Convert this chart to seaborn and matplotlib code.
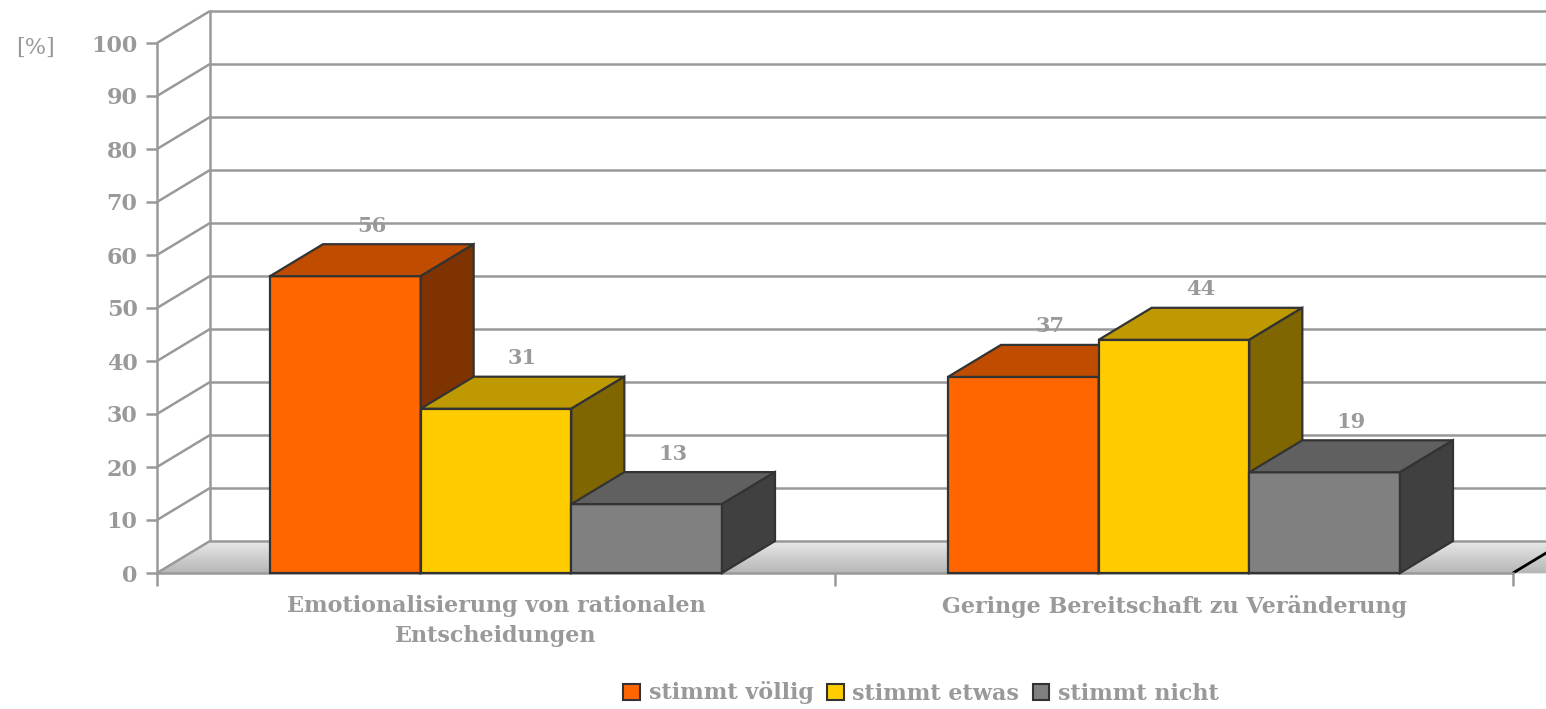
import matplotlib
matplotlib.use("Agg")
import matplotlib.pyplot as plt
import seaborn as sns
import pandas as pd
import numpy as np
from matplotlib.patches import Polygon, Patch
from matplotlib.colors import to_rgb

# ---------------- data ----------------
categories = ["Emotionalisierung von rationalen\nEntscheidungen",
              "Geringe Bereitschaft zu Veränderung"]
series = ["stimmt völlig", "stimmt etwas", "stimmt nicht"]
stimmt_voellig = [56, 37]
stimmt_etwas = [31, 44]
stimmt_nicht = [13, 19]
y_ticks = [0, 10, 20, 30, 40, 50, 60, 70, 80, 90, 100]

# ---------------- styles ----------------
front_colors = ["#FF6600", "#FFCC00", "#808080"]
top_colors = ["#C04C00", "#BF9900", "#606060"]
side_colors = ["#7F3300", "#7F6600", "#404040"]
edge = "#333333"
grey = "#999999"
text_grey = "#999999"

sns.set_style("white")
plt.rcParams["font.family"] = ["DejaVu Serif"]

W, H = 1546, 709
fig = plt.figure(figsize=(W / 100, H / 100), dpi=100)
px_left, px_right, px_bottom, px_top = 157, 1513, 573, 43
ax = fig.add_axes([px_left / W, 1 - px_bottom / H,
                   (px_right - px_left) / W, (px_bottom - px_top) / H])

df = pd.DataFrame({
    "category": categories * 3,
    "series": [series[0]] * 2 + [series[1]] * 2 + [series[2]] * 2,
    "value": stimmt_voellig + stimmt_etwas + stimmt_nicht,
})

sns.barplot(data=df, x="category", y="value", hue="series",
            order=categories, hue_order=series, palette=front_colors,
            saturation=1, width=2 / 3, edgecolor=edge, linewidth=1.6,
            legend=False, ax=ax)

ax.set_xlim(-0.5, 1.5)
ax.set_ylim(0, 100)

# depth offset (pixels -> data units)
DX = 53 * 2 / (px_right - px_left)
DY = 32 * 100 / (px_bottom - px_top)

# floor with gradient
n_strips = 40
c_front = np.array(to_rgb("#b5b5b5"))
c_back = np.array(to_rgb("#e8e8e8"))
for k in range(n_strips):
    t0, t1 = k / n_strips, (k + 1) / n_strips
    col = c_front + (c_back - c_front) * (t0 + t1) / 2
    poly = Polygon([(-0.5 + DX * t0, DY * t0), (1.5 + DX * t0 + 0.1, DY * t0),
                    (1.5 + DX * t1 + 0.1, DY * t1), (-0.5 + DX * t1, DY * t1)],
                   closed=True, facecolor=col, edgecolor=col, lw=0.5,
                   clip_on=False, zorder=0.5)
    ax.add_patch(poly)

# wall gridlines and connectors
for v in y_ticks:
    ax.plot([-0.5, -0.5 + DX], [v, v + DY], color=grey, lw=1.8,
            clip_on=False, zorder=1, solid_capstyle="butt")
    ax.plot([-0.5 + DX, 1.5 + DX + 0.2], [v + DY, v + DY], color=grey, lw=1.8,
            clip_on=False, zorder=1, solid_capstyle="butt")
ax.plot([-0.5 + DX, -0.5 + DX], [DY, 100 + DY], color=grey, lw=1.8,
        clip_on=False, zorder=1)
ax.plot([1.5, 1.5 + DX], [0, DY], color="black", lw=2.0, clip_on=False, zorder=1)

# 3D bars
bars = []
for i, cont in enumerate(ax.containers):
    for rect in cont:
        bars.append((rect.get_x(), i, rect))
bars.sort(key=lambda b: b[0])
for k, (_, i, rect) in enumerate(bars):
    base = 3 + 3 * k
    x, w, h = rect.get_x(), rect.get_width(), rect.get_height()
    rect.set_zorder(base)
    rect.set_clip_on(False)
    top = Polygon([(x, h), (x + w, h), (x + w + DX, h + DY), (x + DX, h + DY)],
                  closed=True, facecolor=top_colors[i], edgecolor=edge,
                  lw=1.6, joinstyle="miter", clip_on=False, zorder=base + 1)
    side = Polygon([(x + w, 0), (x + w + DX, DY), (x + w + DX, h + DY), (x + w, h)],
                   closed=True, facecolor=side_colors[i], edgecolor=edge,
                   lw=1.6, joinstyle="miter", clip_on=False, zorder=base + 1)
    ax.add_patch(top)
    ax.add_patch(side)
    ax.text(x + w / 2 + DX / 2, h + DY + 1.6, f"{h:.0f}", ha="center",
            va="bottom", fontsize=15, fontweight="bold", color=text_grey,
            zorder=100, clip_on=False)

# axes styling
for s in ["top", "right"]:
    ax.spines[s].set_visible(False)
for s in ["left", "bottom"]:
    ax.spines[s].set_color(grey)
    ax.spines[s].set_linewidth(1.8)
    ax.spines[s].set_zorder(2)

ax.set_yticks(y_ticks)
ax.tick_params(axis="y", left=True, direction="out", length=8, width=1.8,
               color=grey, labelcolor=text_grey, labelsize=16, pad=6)
for lbl in ax.get_yticklabels():
    lbl.set_fontweight("bold")

ax.set_xticks([0, 1])
ax.set_xticklabels(categories)
ax.set_xticks([-0.5, 0.5, 1.5], minor=True)
ax.tick_params(axis="x", which="major", bottom=False, length=0, pad=16,
               labelcolor=text_grey, labelsize=16)
ax.tick_params(axis="x", which="minor", bottom=True, direction="out", length=9,
               width=1.8, color=grey)
for lbl in ax.get_xticklabels():
    lbl.set_fontweight("bold")
    lbl.set_linespacing(1.45)
    lbl.set_multialignment("center")

ax.set_xlabel("")
ax.set_ylabel("")
ax.set_facecolor("none")

fig.text(36 / W, 1 - 48 / H, "[%]", ha="center", va="center",
         fontsize=16, color=text_grey)

handles = [Patch(facecolor=c, edgecolor=edge, linewidth=1.5, label=s)
           for c, s in zip(front_colors, series)]
fig.legend(handles=handles, loc="center", bbox_to_anchor=(921 / W, 1 - 693 / H),
           ncol=3, frameon=False, handlelength=0.75, handleheight=0.75,
           handletextpad=0.4, columnspacing=0.6,
           prop={"size": 16, "weight": "bold"}, labelcolor=text_grey)

fig.savefig("out.png", dpi=100)
